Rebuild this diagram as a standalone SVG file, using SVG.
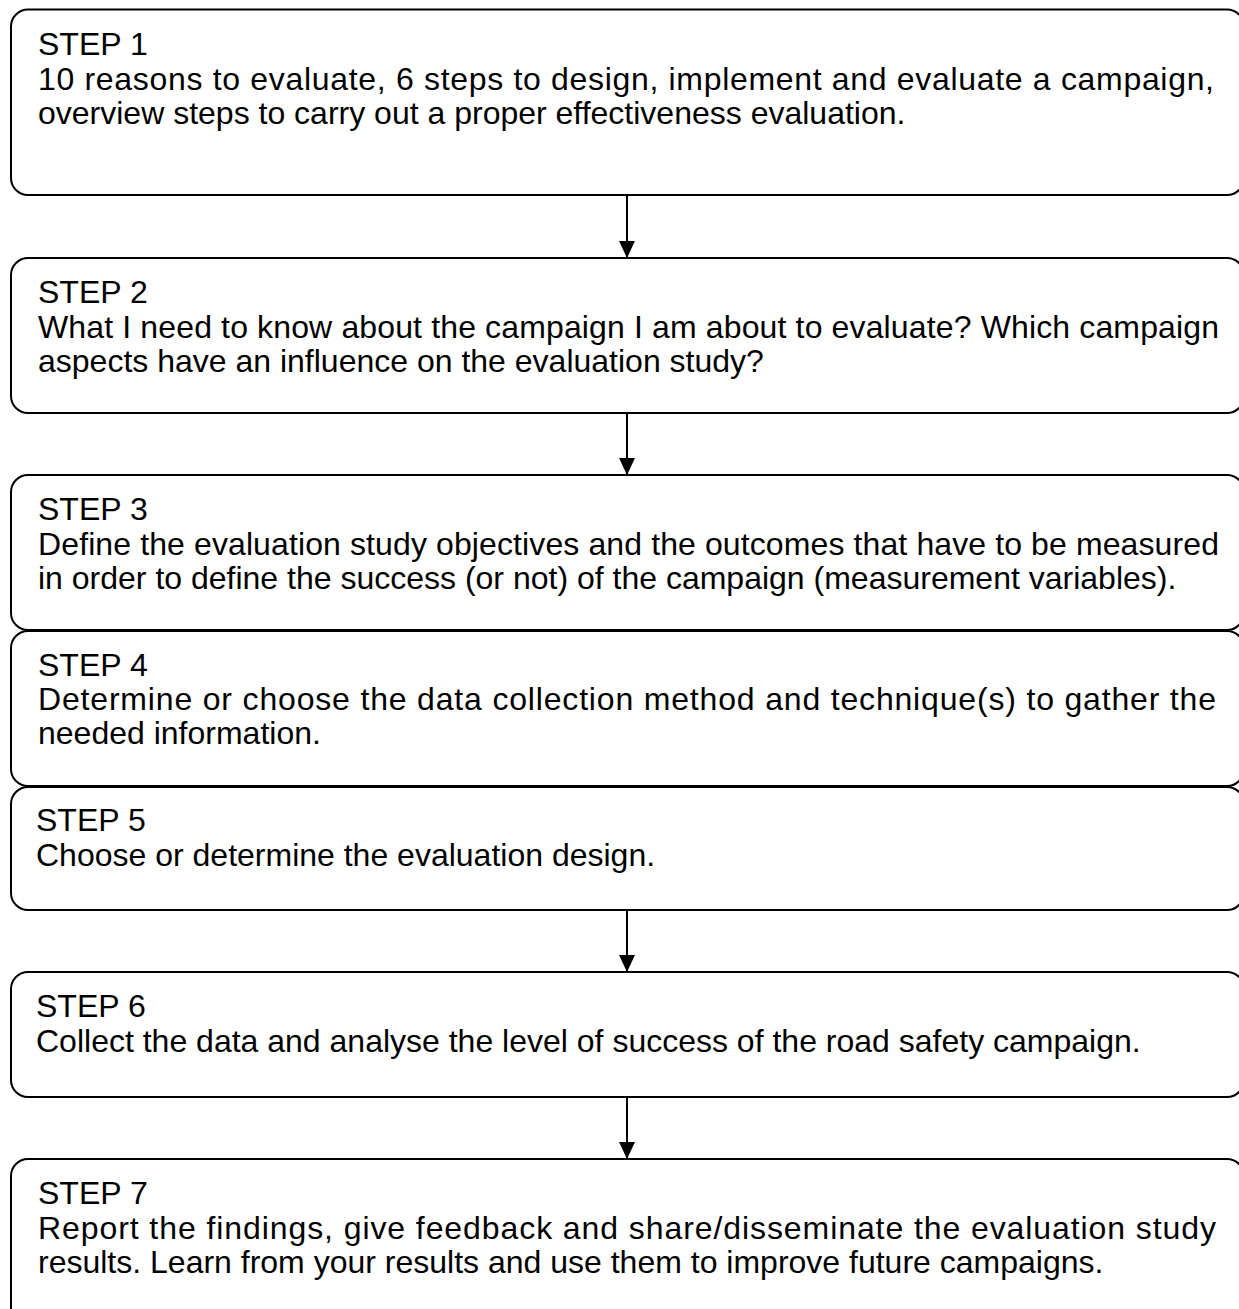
<svg xmlns="http://www.w3.org/2000/svg" width="1239" height="1309" viewBox="0 0 1239 1309">
  <style>
    .box { fill: #ffffff; stroke: #000000; stroke-width: 2; }
    .txt { font-family: "Liberation Sans", Arial, sans-serif; font-size: 32px; fill: #000000; }
    .conn { stroke: #000000; stroke-width: 2; fill: none; }
  </style>
  <defs>
    <marker id="arrowhead" markerUnits="userSpaceOnUse" markerWidth="17" markerHeight="16" refX="17" refY="8" orient="auto" viewBox="0 0 17 16">
      <path d="M0,0 L17,8 L0,16 Z" fill="#000000"/>
    </marker>
  </defs>

  <!-- connectors between consecutive steps -->
  <g id="connectors">
    <line class="conn" x1="627" y1="195" x2="627" y2="258" marker-end="url(#arrowhead)"/>
    <line class="conn" x1="627" y1="413" x2="627" y2="475" marker-end="url(#arrowhead)"/>
    <line class="conn" x1="627" y1="910" x2="627" y2="972" marker-end="url(#arrowhead)"/>
    <line class="conn" x1="627" y1="1097" x2="627" y2="1159" marker-end="url(#arrowhead)"/>
  </g>

  <g id="step1">
    <rect class="box" x="11" y="9.5" width="1233" height="185.5" rx="17" ry="17"/>
    <text class="txt" x="38" y="55">STEP 1</text>
    <text class="txt" x="38" y="90" textLength="1176" lengthAdjust="spacing">10 reasons to evaluate, 6 steps to design, implement and evaluate a campaign,</text>
    <text class="txt" x="38" y="124">overview steps to carry out a proper effectiveness evaluation.</text>
  </g>

  <g id="step2">
    <rect class="box" x="11" y="258" width="1233" height="155" rx="17" ry="17"/>
    <text class="txt" x="38" y="303">STEP 2</text>
    <text class="txt" x="38" y="338" textLength="1181" lengthAdjust="spacing">What I need to know about the campaign I am about to evaluate? Which campaign</text>
    <text class="txt" x="38" y="372">aspects have an influence on the evaluation study?</text>
  </g>

  <g id="step3">
    <rect class="box" x="11" y="475" width="1233" height="155" rx="17" ry="17"/>
    <text class="txt" x="38" y="520">STEP 3</text>
    <text class="txt" x="38" y="555" textLength="1181" lengthAdjust="spacing">Define the evaluation study objectives and the outcomes that have to be measured</text>
    <text class="txt" x="38" y="589">in order to define the success (or not) of the campaign (measurement variables).</text>
  </g>

  <g id="step4">
    <rect class="box" x="11" y="631" width="1233" height="155" rx="17" ry="17"/>
    <text class="txt" x="38" y="676">STEP 4</text>
    <text class="txt" x="38" y="710" textLength="1178" lengthAdjust="spacing">Determine or choose the data collection method and technique(s) to gather the</text>
    <text class="txt" x="38" y="744">needed information.</text>
  </g>

  <g id="step5">
    <rect class="box" x="11" y="787" width="1233" height="123" rx="17" ry="17"/>
    <text class="txt" x="36" y="831">STEP 5</text>
    <text class="txt" x="36" y="866">Choose or determine the evaluation design.</text>
  </g>

  <g id="step6">
    <rect class="box" x="11" y="972" width="1233" height="125" rx="17" ry="17"/>
    <text class="txt" x="36" y="1017">STEP 6</text>
    <text class="txt" x="36" y="1052">Collect the data and analyse the level of success of the road safety campaign.</text>
  </g>

  <g id="step7">
    <rect class="box" x="11" y="1159" width="1233" height="166" rx="17" ry="17"/>
    <text class="txt" x="38" y="1204">STEP 7</text>
    <text class="txt" x="38" y="1239" textLength="1178" lengthAdjust="spacing">Report the findings, give feedback and share/disseminate the evaluation study</text>
    <text class="txt" x="38" y="1273">results. Learn from your results and use them to improve future campaigns.</text>
  </g>
</svg>
